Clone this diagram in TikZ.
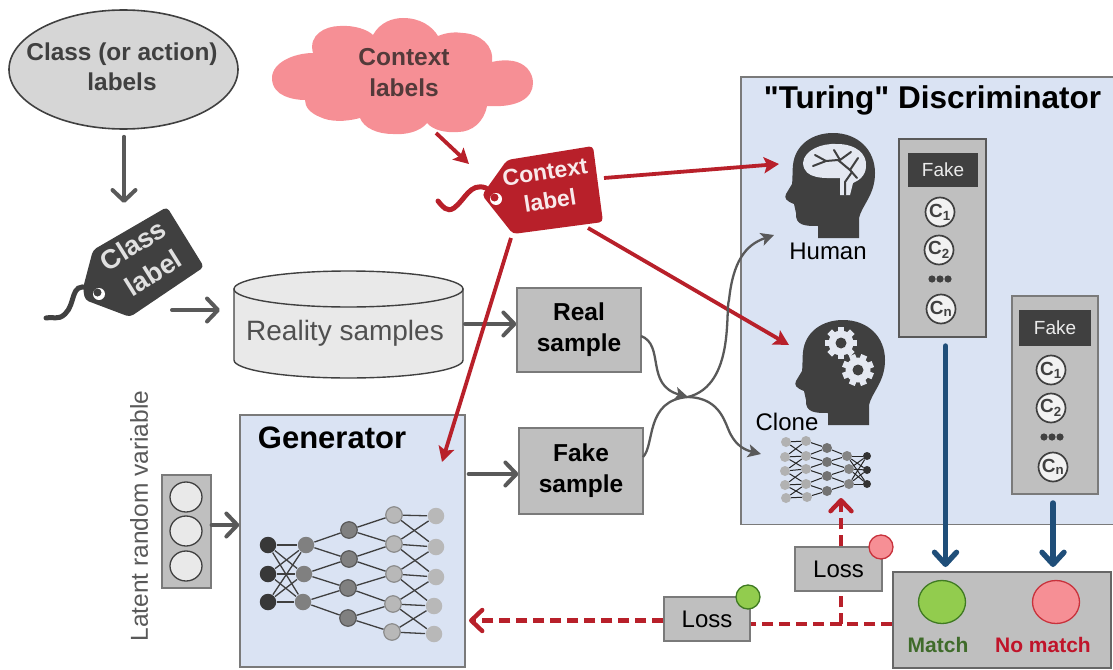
\documentclass[tikz,border=0pt]{standalone}
\usepackage{fontspec}
\setmainfont{Liberation Sans}
\newfontfamily\turingfont{Liberation Sans}
\usetikzlibrary{arrows.meta,shapes.geometric}
\pgfdeclarelayer{front}
\pgfsetlayers{main,front}
\definecolor{panelblue}{HTML}{DAE3F3}
\definecolor{boxgray}{HTML}{BFBFBF}
\definecolor{edgegray}{HTML}{7A7A7A}
\definecolor{arrowgray}{HTML}{595959}
\definecolor{darkgray}{HTML}{404040}
\definecolor{lightfill}{HTML}{E9E9E9}
\definecolor{redarrow}{HTML}{B8202A}
\definecolor{pinkfill}{HTML}{F68F95}
\definecolor{pinkedge}{HTML}{C8323C}
\definecolor{greenfill}{HTML}{92CC4E}
\definecolor{greenedge}{HTML}{3F7A22}
\definecolor{bluearrow}{HTML}{1F4E79}
\definecolor{matchgreen}{HTML}{3F6B2A}
\definecolor{nomatchred}{HTML}{C0142A}
\definecolor{gearfill}{HTML}{E4E8F1}
\newcommand\fsz[2]{\fontsize{#1}{#2}\selectfont}
\tikzset{
  x=1pt,y=-1pt,
  graybox/.style={draw=edgegray,line width=1.2pt,fill=boxgray,inner sep=0pt,align=center,text=black},
  bluepanel/.style={draw=edgegray,line width=1.3pt,fill=panelblue,inner sep=0pt},
  plainlabel/.style={font=\fsz{24}{30},inner sep=0pt},
  grayline/.style={draw=arrowgray,line width=4pt,line cap=round,-{Straight Barb[length=11pt,width=23pt,round]}},
  thincurve/.style={draw=arrowgray,line width=2.3pt},
  thincurvetip/.style={thincurve,-{Stealth[length=13pt,width=13pt,inset=3pt]}},
  redline/.style={draw=redarrow,line width=3.8pt,-{Stealth[length=15pt,width=16pt,inset=3pt]}},
  reddash/.style={draw=redarrow,line width=4.4pt,dash pattern=on 11pt off 6pt},
  reddashtip/.style={reddash,-{Straight Barb[length=11pt,width=21pt,round]}},
  blueline/.style={draw=bluearrow,line width=5.4pt,line cap=round,-{Straight Barb[length=12pt,width=22pt,round]}},
  cball/.style={circle,draw=darkgray,line width=1.7pt,fill=lightfill!60!white,minimum size=29pt,inner sep=0pt,font=\bfseries\fsz{19}{19},text=darkgray},
  fakehead/.style={fill=darkgray,text=white!92!black,font=\fsz{19}{19},inner sep=0pt},
  nnbig/.style={circle,minimum size=16.5pt,inner sep=0pt,line width=1.2pt},
  nnsmall/.style={circle,minimum size=10pt,inner sep=0pt},
  nnedge/.style={draw=darkgray,line width=1.3pt},
  nnedgesmall/.style={draw=black!85,line width=1pt},
  lampred/.style={ellipse,draw=pinkedge,line width=1.3pt,fill=pinkfill,inner sep=0pt},
  lampgreen/.style={ellipse,draw=greenedge,line width=1.3pt,fill=greenfill,inner sep=0pt},
}
\begin{document}
\begin{tikzpicture}
\useasboundingbox (0,0) rectangle (1113,669);
\clip (0,0) rectangle (1113,669);

%% top-left ellipse, class tag
\node[ellipse,draw=darkgray,line width=1.6pt,fill=lightfill!92!black,minimum width=229pt,minimum height=119pt,inner sep=0pt] (classes) at (123.5,69.5) {};
\node[font=\bfseries\fsz{24.4}{30},align=center,text=darkgray,inner sep=0pt] (classtext) at (122,67) {Class (or action)\\labels};
\coordinate (classtip) at (124,203);
\fill[darkgray,rounded corners=4pt] (93,250) -- (167,207) -- (204,267) -- (130,317) -- (85,300) -- (83,288) -- cycle;
\draw[darkgray,line width=5pt,line cap=round] (88,288) .. controls (70,282) and (76,304) .. (65,314) .. controls (58,321) and (52,316) .. (46,318);
\fill[white] (99,294) circle (6pt);
\fill[darkgray] (97.5,292.5) circle (4pt);
\node[font=\bfseries\fsz{27}{27},text=white!88!black,rotate=32,inner sep=0pt] (classa) at (133,245) {Class};
\node[font=\bfseries\fsz{27}{27},text=white!88!black,rotate=32,inner sep=0pt] (classb) at (153,273) {label};
\coordinate (classtagout) at (172,310);
\draw[grayline] (classes.south -| classtip) ++(0,7) -- (classtip);

%% reality samples cylinder
\draw[draw=darkgray,line width=1.4pt,fill=lightfill] (234,289) -- (234,360) .. controls (234,370) and (285,378) .. (348.5,378)
  .. controls (412,378) and (463,370) .. (463,360) -- (463,289) -- cycle;
\node[ellipse,draw=darkgray,line width=1.4pt,fill=lightfill,minimum width=229pt,minimum height=36pt,inner sep=0pt] (cyltop) at (348.5,289) {};
\node[font=\fsz{28}{28},text=arrowgray!90!black,inner sep=0pt] (reality) at (345,333) {Reality samples};
\coordinate (cylin) at (220,310);
\draw[grayline] (classtagout) -- (cylin);

%% boxes of the middle column
\node[graybox,font=\bfseries\fsz{24.5}{31},minimum width=124pt,minimum height=84pt] (real) at (579,330) {Real\\sample};
\node[graybox,font=\bfseries\fsz{24.5}{31},minimum width=124pt,minimum height=86pt] (fake) at (581,471) {Fake\\sample};
\coordinate (realin) at (465,324);
\draw[grayline] (realin) -- (real.west |- realin);

%% generator
\node[bluepanel,minimum width=225pt,minimum height=252pt] (gen) at (352.5,541) {};
\node[font=\bfseries\fsz{31}{31},inner sep=0pt] (gentitle) at (332,438) {Generator};
\node[graybox,minimum width=49pt,minimum height=113pt] (latent) at (186.5,531.5) {};
\foreach \n/\y in {la/497,lb/531,lc/566}
  \node[ellipse,draw=darkgray,line width=1.3pt,fill=lightfill,minimum width=32pt,minimum height=30pt,inner sep=0pt] (\n) at (186,\y) {};
\node[font=\fsz{24.5}{25},rotate=90,text=arrowgray,inner sep=0pt] (latenttext) at (139,516) {Latent random variable};
\coordinate (latentrow) at (200,525);
\draw[grayline] (latent.east |- latentrow) -- (gen.west |- latentrow);
\coordinate (fakerow) at (500,474);
\draw[grayline] (gen.east |- fakerow) ++(3,0) -- (fake.west |- fakerow);

%% generator network
\begin{pgfonlayer}{front}
\foreach \n/\x/\y in {ga/268/545,gb/268/574,gc/268/602}
  \node[nnbig,fill=black!78] (\n) at (\x,\y) {};
\foreach \n/\x/\y in {gd/306/545,ge/304/574,gf/303/602}
  \node[nnbig,fill=black!50] (\n) at (\x,\y) {};
\foreach \n/\x/\y in {gg/349/530,gh/349/559,gi/348/588,gj/348/618}
  \node[nnbig,draw=black!65,fill=black!50] (\n) at (\x,\y) {};
\foreach \n/\x/\y in {gk/394/515,gl/394/544,gm/394/574,gn/393/604,go/392/632}
  \node[nnbig,draw=black!45,fill=black!28] (\n) at (\x,\y) {};
\foreach \n/\x/\y in {gp/436/516,gq/436/547,gr/436/577,gs/434/606,gt/434/634}
  \node[nnbig,fill=black!28] (\n) at (\x,\y) {};
\end{pgfonlayer}
\foreach \a/\b in {ga/gd,ga/ge,ga/gf,gb/gd,gb/ge,gb/gf,gc/gd,gc/ge,gc/gf,
  gd/gg,gd/gh,ge/gh,ge/gi,gf/gi,gf/gj,
  gg/gk,gg/gl,gh/gl,gh/gm,gi/gm,gi/gn,gj/gn,gj/go,
  gk/gp,gk/gq,gl/gp,gl/gq,gl/gr,gm/gq,gm/gr,gm/gs,gn/gr,gn/gs,gn/gt,go/gs,go/gt}
  \draw[nnedge] (\a) -- (\b);

%% discriminator panel
\fill[panelblue] (741,77) rectangle (1113,524.5);
\draw[draw=edgegray,line width=1.4pt] (1113,77) -- (741,77) -- (741,524.5) -- (1113,524.5);
\node[font=\turingfont\bfseries\fsz{31.5}{32},inner sep=0pt] (turing) at (932.5,100) {"Turing" Discriminator};

%% human head
\fill[darkgray] (818,238) -- (818,226) .. controls (806,226) and (795,226) .. (796,213) -- (794,204)
  .. controls (786,201) and (784,198) .. (786,194) -- (792,184) .. controls (793,178) and (792,172) .. (793,165)
  .. controls (795,145) and (812,133) .. (833,133) .. controls (858,133) and (875,150) .. (875,173)
  .. controls (875,195) and (862,205) .. (859,218) -- (859,238) -- cycle;
\fill[gearfill] (803,163) .. controls (804,150) and (822,143) .. (837,144) .. controls (856,144) and (867,154) .. (866,166)
  .. controls (866,176) and (858,181) .. (853,183) -- (850,195) -- (840,195) -- (840,178) .. controls (825,178) and (804,180) .. (803,163) -- cycle;
\draw[darkgray,line width=2pt,line cap=round] (813,166) -- (826,161) -- (838,160) -- (850,170) -- (857,178);
\draw[darkgray,line width=2pt,line cap=round] (815,155) -- (826,161);
\draw[darkgray,line width=2pt,line cap=round] (834,150) -- (840,160) -- (851,152);
\draw[darkgray,line width=2pt,line cap=round] (845,195) -- (845,182) -- (852,172);
\draw[darkgray,line width=2pt,line cap=round] (850,170) -- (858,158);
\node[plainlabel] (human) at (828,251) {Human};
\coordinate (humanin) at (779,164);
\coordinate (humancurve) at (774,235);

%% clone head
\begin{scope}[shift={(10,187)}]
\fill[darkgray] (818,238) -- (818,226) .. controls (806,226) and (795,226) .. (796,213) -- (794,204)
  .. controls (786,201) and (784,198) .. (786,194) -- (792,184) .. controls (793,178) and (792,172) .. (793,165)
  .. controls (795,145) and (812,133) .. (833,133) .. controls (858,133) and (875,150) .. (875,173)
  .. controls (875,195) and (862,205) .. (859,218) -- (859,238) -- cycle;
\end{scope}
\begin{scope}[shift={(841,343)}]
  \foreach \a in {0,45,135,90} \fill[gearfill,rotate=\a] (-3.2pt,-16pt) rectangle (3.2pt,16pt);
  \fill[gearfill] (0,0) circle (12.5pt);
  \fill[darkgray] (0,0) circle (5.5pt);
\end{scope}
\begin{scope}[shift={(858,370)}]
  \foreach \a in {22,67,112,157} \fill[gearfill,rotate=\a] (-3.2pt,-16pt) rectangle (3.2pt,16pt);
  \fill[gearfill] (0,0) circle (12.5pt);
  \fill[darkgray] (0,0) circle (5.5pt);
\end{scope}
\node[plainlabel] (clone) at (787,422) {Clone};
\coordinate (clonein) at (789,345);
\coordinate (clonecurve) at (761,454);

%% clone network
\begin{pgfonlayer}{front}
\foreach \n/\x/\y in {ca/786/442,cb/785/457,cc/785/471,cd/785/485,ce/786/498}
  \node[nnsmall,fill=black!30] (\n) at (\x,\y) {};
\foreach \n/\x/\y in {cf/806/441,cg/806/456,ch/806/469,ci/806/484,cj/807/497}
  \node[nnsmall,fill=black!32] (\n) at (\x,\y) {};
\foreach \n/\x/\y in {ck/827/448,cl/827/462,cm/827/476,cn/827/491}
  \node[nnsmall,fill=black!55] (\n) at (\x,\y) {};
\foreach \n/\x/\y in {co/847/456,cp/849/469,cq/849/484}
  \node[nnsmall,fill=black!48] (\n) at (\x,\y) {};
\foreach \n/\x/\y in {cr/867/456,cs/867/470,ct/867/484}
  \node[circle,minimum size=8pt,inner sep=0pt,fill=black!80] (\n) at (\x,\y) {};
\end{pgfonlayer}
\foreach \a/\b in {ca/cf,ca/cg,cb/cf,cb/cg,cb/ch,cc/cg,cc/ch,cc/ci,cd/ch,cd/ci,cd/cj,ce/ci,ce/cj,
  cf/ck,cg/ck,cg/cl,ch/cl,ch/cm,ci/cm,ci/cn,cj/cn,
  ck/co,cl/co,cl/cp,cm/cp,cm/cq,cn/cq,
  co/cr,co/cs,co/ct,cp/cr,cp/cs,cp/ct,cq/cr,cq/cs,cq/ct}
  \draw[nnedgesmall] (\a) -- (\b);

%% fake panels
\node[graybox,draw=black!65,minimum width=87pt,minimum height=198pt] (panela) at (942.5,238) {};
\node[fakehead,minimum width=70pt,minimum height=34pt] (heada) at (943,170) {Fake};
\node[cball] (c1a) at (940,212) {C\textsubscript{1}};
\node[cball] (c2a) at (939,250) {C\textsubscript{2}};
\foreach \x in {932,940,948} \fill[darkgray] (\x,279) circle (3.6pt);
\node[cball] (cna) at (941,309) {C\textsubscript{n}};

\node[graybox,minimum width=86pt,minimum height=198pt] (panelb) at (1055,395) {};
\node[fakehead,minimum width=72pt,minimum height=36pt] (headb) at (1055,328) {Fake};
\node[cball] (c1b) at (1051,370) {C\textsubscript{1}};
\node[cball] (c2b) at (1051,408) {C\textsubscript{2}};
\foreach \x in {1044,1052,1060} \fill[darkgray] (\x,437) circle (3.6pt);
\node[cball] (cnb) at (1053,467) {C\textsubscript{n}};

%% match box
\node[graybox,draw=black!60,minimum width=218pt,minimum height=96pt] (matchbox) at (1002,620) {};
\node[lampgreen,minimum width=47pt,minimum height=43pt] (matchlamp) at (942,602) {};
\node[lampred,minimum width=47pt,minimum height=43pt] (nolamp) at (1056,602) {};
\node[font=\bfseries\fsz{21}{21},text=matchgreen,inner sep=0pt] (matchtext) at (938,645) {Match};
\node[font=\bfseries\fsz{21}{21},text=nomatchred,inner sep=0pt] (notext) at (1043,645) {No match};
\draw[blueline] (945.5,346) -- (945.5,567);
\draw[blueline] (1053,503) -- (1053,567);

%% cloud
\path[fill=pinkfill] (313,53) .. controls (308,35) and (325,26) .. (340,26) .. controls (355,25) and (368,30) .. (373,35)
  .. controls (380,22) and (393,18) .. (403,18) .. controls (420,18) and (432,26) .. (438,36)
  .. controls (448,32) and (456,32) .. (463,33) .. controls (480,34) and (494,45) .. (492,62)
  .. controls (500,60) and (507,60) .. (513,61) .. controls (525,63) and (533,72) .. (533,83)
  .. controls (533,98) and (518,108) .. (487,106) .. controls (484,122) and (472,132) .. (458,132)
  .. controls (445,133) and (433,130) .. (427,123) .. controls (420,132) and (405,135) .. (393,134)
  .. controls (377,134) and (364,128) .. (360,118) .. controls (345,122) and (330,122) .. (320,117)
  .. controls (310,113) and (305,107) .. (305,100) .. controls (295,100) and (272,97) .. (272,78)
  .. controls (272,62) and (295,53) .. (313,53) -- cycle;
\node[font=\bfseries\fsz{24.5}{31},align=center,text=darkgray!90!red,inner sep=0pt] (ctxlabels) at (404,73) {Context\\labels};
\coordinate (cloudout) at (436,133);

%% context tag
\fill[redarrow,rounded corners=4pt] (507,160) -- (593,146) -- (603,222) -- (513,234) -- (482,195) -- cycle;
\draw[redarrow,line width=5pt,line cap=round] (486,188) .. controls (470,182) and (465,200) .. (454,208) .. controls (447,213) and (442,206) .. (438,201);
\fill[white] (496,199) circle (6pt);
\fill[redarrow] (494.5,197.5) circle (4pt);
\node[font=\bfseries\fsz{23}{23},text=white!90!redarrow,rotate=9,inner sep=0pt] (ctxa) at (545,172) {Context};
\node[font=\bfseries\fsz{23}{23},text=white!90!redarrow,rotate=9,inner sep=0pt] (ctxb) at (550,200) {label};
\coordinate (tagin) at (469,164);
\coordinate (tagright) at (604,178);
\coordinate (tagbr) at (588,228);
\coordinate (tagbot) at (511,238);
\coordinate (genin) at (442,462);
\draw[redline] (cloudout) -- (tagin);
\draw[redline] (tagright) -- (humanin);
\draw[redline] (tagbr) -- (clonein);
\draw[redline] (tagbot) -- (genin);

%% sample curves
\coordinate (merge) at (688,397);
\coordinate (realout) at (641,336);
\coordinate (fakeout) at (643,457);
\draw[thincurvetip] (realout) .. controls (665,345) and (645,385) .. (merge);
\draw[thincurve] (fakeout) .. controls (655,445) and (645,400) .. (merge);
\draw[thincurvetip] (merge) .. controls (735,385) and (725,310) .. (729,300) .. controls (733,262) and (745,245) .. (humancurve);
\draw[thincurvetip] (merge) .. controls (722,398) and (725,425) .. (731,435) .. controls (737,446) and (745,450) .. (clonecurve);

%% losses
\node[graybox,minimum width=87pt,minimum height=44pt,font=\fsz{24}{24}] (lossa) at (838.5,569) {Loss};
\node[lampred,minimum size=24pt] (lossalamp) at (881,547) {};
\node[graybox,minimum width=86pt,minimum height=44pt,font=\fsz{24}{24}] (lossb) at (707,619) {Loss};
\node[lampgreen,minimum size=24pt] (lossblamp) at (748,597) {};
\coordinate (corner) at (841,624);
\coordinate (clonetip) at (841,498);
\coordinate (gentip) at (469,620.5);
\draw[reddash] (matchbox.west |- corner) -- (corner) -- (corner |- lossa.south);
\draw[reddash] (corner) -- (lossb.east |- corner);
\draw[reddashtip] (corner |- lossa.north) -- (clonetip);
\draw[reddashtip] (lossb.west |- gentip) -- (gentip);
\end{tikzpicture}
\end{document}
